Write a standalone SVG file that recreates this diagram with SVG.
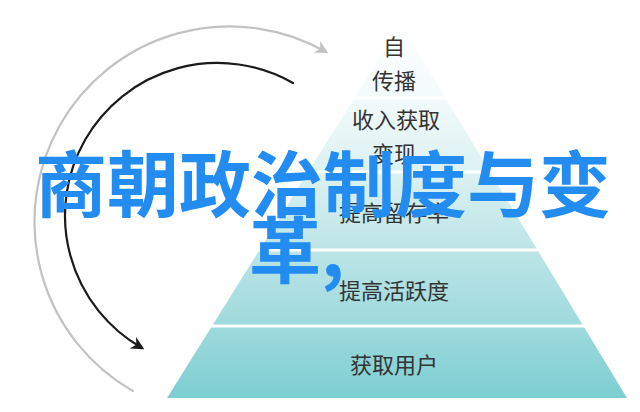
<svg xmlns="http://www.w3.org/2000/svg" width="640" height="412" viewBox="0 0 640 412">
  <style>
    .lbl { font-family: "Noto Sans CJK SC", "Noto Sans", sans-serif; font-size: 22px; fill: #333333; text-anchor: middle; }
    .title { font-family: "Noto Sans CJK SC", "Noto Sans", sans-serif; font-size: 72px; font-weight: 700; fill: #238cf0; }
    .div { stroke: #ffffff; stroke-width: 3; }
    .band { fill: url(#pg); }
  </style>
  <defs>
    <linearGradient id="pg" gradientUnits="userSpaceOnUse" x1="0" y1="24" x2="0" y2="398">
      <stop offset="0" stop-color="#ffffff"/>
      <stop offset="0.2" stop-color="#f2fafa"/>
      <stop offset="0.4" stop-color="#dbf1f2"/>
      <stop offset="0.6" stop-color="#bde5e7"/>
      <stop offset="0.8" stop-color="#9fdadd"/>
      <stop offset="1" stop-color="#7dced2"/>
    </linearGradient>
    <linearGradient id="sheen" gradientUnits="userSpaceOnUse" x1="160" y1="0" x2="420" y2="0">
      <stop offset="0" stop-color="#ffffff" stop-opacity="0.35"/>
      <stop offset="1" stop-color="#ffffff" stop-opacity="0"/>
    </linearGradient>
    <marker id="ah-gray" viewBox="0 0 10 10" refX="8" refY="5" markerWidth="6" markerHeight="6" orient="auto" markerUnits="strokeWidth">
      <path d="M0,0 L10,5 L0,10 L3,5 Z" fill="#c2c2c2"/>
    </marker>
    <marker id="ah-black" viewBox="0 0 10 10" refX="8" refY="5" markerWidth="6" markerHeight="6" orient="auto" markerUnits="strokeWidth">
      <path d="M0,0 L10,5 L0,10 L3,5 Z" fill="#1a1a1a"/>
    </marker>
  </defs>

  <rect width="640" height="412" fill="#ffffff"/>

  <g id="layer-top">
    <polygon class="band" points="400.7,24 445.5,98 354.5,98"/>
    <text class="lbl" x="394" y="55">自</text>
    <text class="lbl" x="394" y="89">传播</text>
  </g>
  <g id="layer-revenue">
    <polygon class="band" points="354.5,98 445.5,98 490,172 308,172"/>
    <text class="lbl" x="396" y="128">收入获取</text>
    <text class="lbl" x="394" y="162">变现</text>
  </g>
  <g id="layer-retention">
    <polygon class="band" points="308,172 490,172 537.5,250 259.5,250"/>
    <text class="lbl" x="394" y="221">提高留存率</text>
  </g>
  <g id="layer-activity">
    <polygon class="band" points="259.5,250 537.5,250 583.4,326 212,326"/>
    <text class="lbl" x="394" y="299">提高活跃度</text>
  </g>
  <g id="layer-acquire">
    <polygon class="band" points="212,326 583.4,326 627,398 167,398"/>
    <text class="lbl" x="394" y="373">获取用户</text>
  </g>
  <g id="dividers">
    <line class="div" x1="350" y1="98" x2="450" y2="98"/>
    <line class="div" x1="304" y1="172" x2="494" y2="172"/>
    <line class="div" x1="255" y1="250" x2="542" y2="250"/>
    <line class="div" x1="208" y1="326" x2="588" y2="326"/>
  </g>

  <g id="connectors" fill="none" stroke-linecap="round">
    <path d="M133,391 A195,195 0 0 1 326,52" stroke="#c2c2c2" stroke-width="2.2" marker-end="url(#ah-gray)"/>
    <path d="M293,83 A152,152 0 1 0 142,348" stroke="#1a1a1a" stroke-width="2.2" marker-end="url(#ah-black)"/>
  </g>

  <g id="title">
    <text class="title" x="323" y="211" text-anchor="middle">商朝政治制度与变</text>
    <text class="title" x="249" y="277">革,</text>
  </g>
</svg>
